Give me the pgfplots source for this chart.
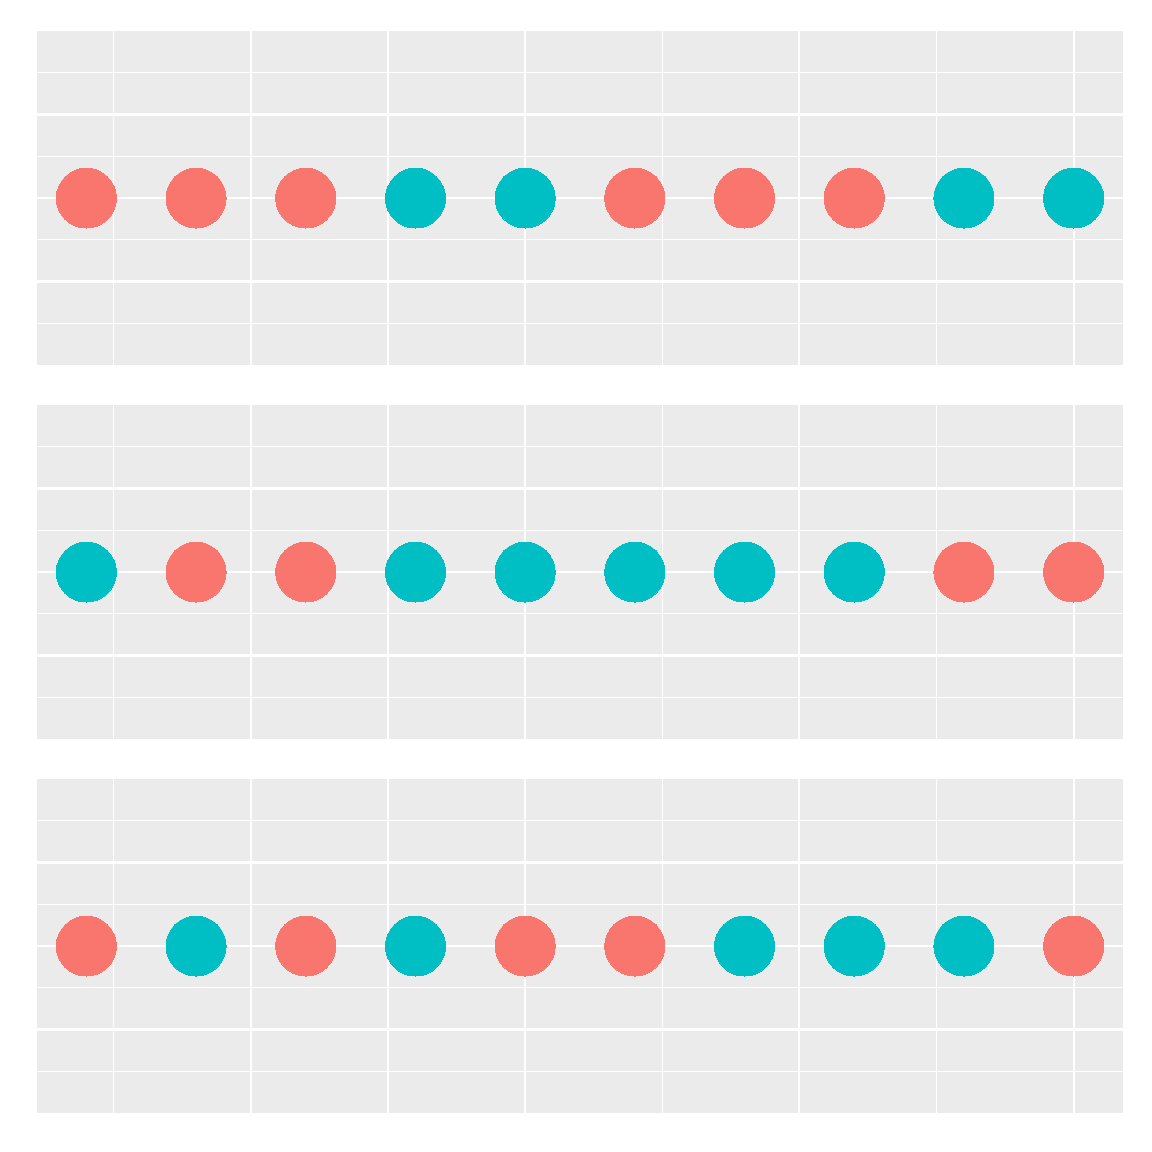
\documentclass[border=0pt]{standalone}
\usepackage{pgfplots}
\pgfplotsset{compat=1.18}
\definecolor{bgg}{HTML}{EBEBEB}
\definecolor{cred}{HTML}{F8766D}
\definecolor{cteal}{HTML}{00BFC4}
\pgfplotsset{panel/.style={
 width=543pt, height=167pt, scale only axis,
 xmin=0.55, xmax=10.45, ymin=-1, ymax=1,
 axis background/.style={fill=bgg},
 axis line style={draw=none},
 xtick={2.5,5,7.5,10}, minor xtick={1.25,3.75,6.25,8.75},
 ytick={-0.5,0,0.5}, minor ytick={-0.75,-0.25,0.25,0.75},
 xticklabels={}, yticklabels={},
 major tick length=0pt, minor tick length=0pt,
 grid=both,
 major grid style={white, line width=1.07pt},
 minor grid style={white, line width=0.53pt},
 anchor=north west,
},
ptred/.style={only marks, mark=*, mark size=15pt, color=cred, mark options={draw=cred, fill=cred, line width=0pt}},
ptteal/.style={only marks, mark=*, mark size=15pt, color=cteal, mark options={draw=cteal, fill=cteal, line width=0pt}},
}
\begin{document}
\begin{tikzpicture}
\path[use as bounding box] (0,0) rectangle (576pt,-576pt);
\begin{axis}[panel, at={(18.5pt,-15.5pt)}]
\addplot[ptred] coordinates {(1,0) (2,0) (3,0) (6,0) (7,0) (8,0)};
\addplot[ptteal] coordinates {(4,0) (5,0) (9,0) (10,0)};
\end{axis}
\begin{axis}[panel, at={(18.5pt,-202.5pt)}]
\addplot[ptred] coordinates {(2,0) (3,0) (9,0) (10,0)};
\addplot[ptteal] coordinates {(1,0) (4,0) (5,0) (6,0) (7,0) (8,0)};
\end{axis}
\begin{axis}[panel, at={(18.5pt,-389.5pt)}]
\addplot[ptred] coordinates {(1,0) (3,0) (5,0) (6,0) (10,0)};
\addplot[ptteal] coordinates {(2,0) (4,0) (7,0) (8,0) (9,0)};
\end{axis}
\end{tikzpicture}
\end{document}
